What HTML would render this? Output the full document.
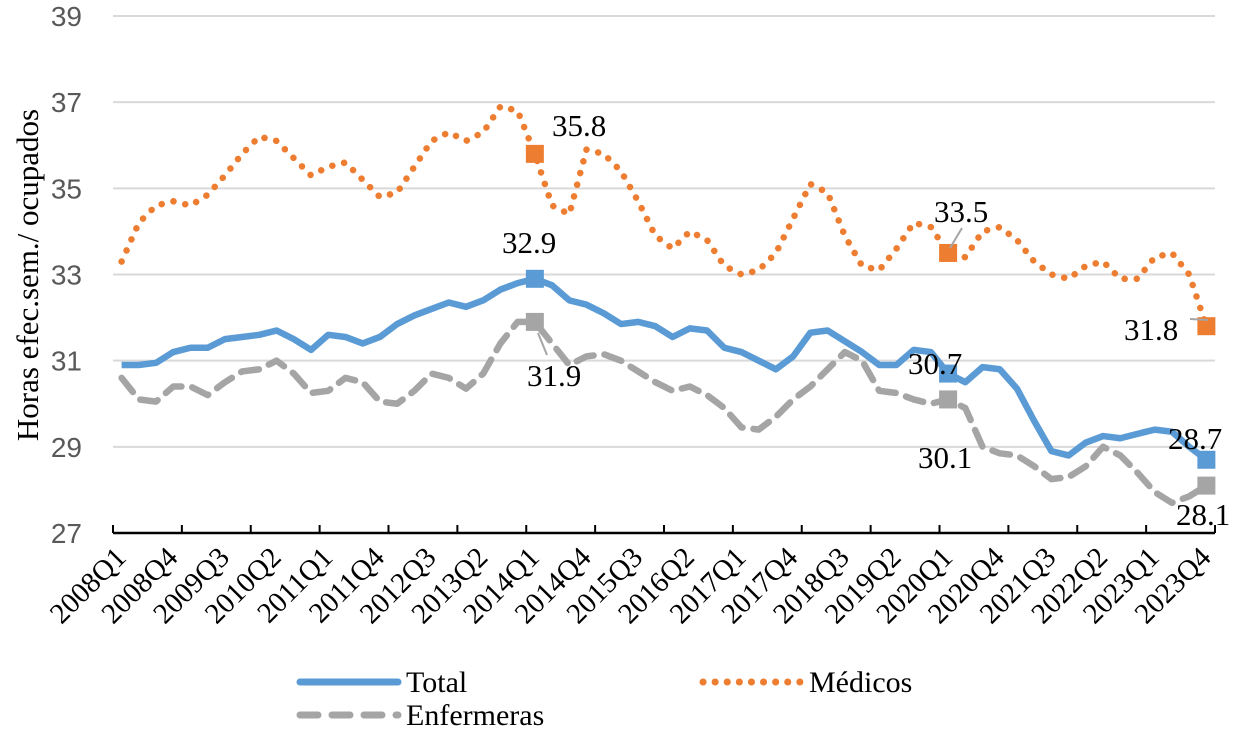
<!DOCTYPE html>
<html><head><meta charset="utf-8"><style>
body{margin:0;background:#fff}
svg{display:block}
text{font-family:"Liberation Serif",serif;fill:#000}
</style></head><body>
<svg id="c" width="1250" height="729"></svg>
<script>
const categories=[];for(let y=2008;y<=2023;y++)for(let q=1;q<=4;q++)categories.push(y+"Q"+q);
const totalValues=[30.9,30.9,30.95,31.2,31.3,31.3,31.5,31.55,31.6,31.7,31.5,31.25,31.6,31.55,31.4,31.55,31.85,32.05,32.2,32.35,32.25,32.4,32.65,32.8,32.9,32.75,32.4,32.3,32.1,31.85,31.9,31.8,31.55,31.75,31.7,31.3,31.2,31.0,30.8,31.1,31.65,31.7,31.45,31.2,30.9,30.9,31.25,31.2,30.7,30.5,30.85,30.8,30.35,29.6,28.9,28.8,29.1,29.25,29.2,29.3,29.4,29.35,29.0,28.7];
const medicosValues=[33.3,34.2,34.6,34.7,34.6,34.85,35.3,35.8,36.2,36.1,35.7,35.3,35.5,35.6,35.2,34.8,34.9,35.5,36.1,36.3,36.1,36.3,36.9,36.8,35.8,34.6,34.4,35.9,35.8,35.4,34.7,33.9,33.6,34.0,33.8,33.2,33.0,33.1,33.5,34.3,35.1,34.9,33.9,33.2,33.1,33.6,34.2,34.1,33.5,33.4,34.0,34.1,33.8,33.3,33.0,32.9,33.2,33.3,32.9,32.9,33.4,33.5,33.0,31.8];
const enfermerasValues=[30.6,30.1,30.05,30.4,30.4,30.2,30.5,30.75,30.8,31.0,30.7,30.25,30.3,30.6,30.5,30.05,30.0,30.3,30.7,30.6,30.35,30.7,31.4,31.9,31.9,31.4,30.9,31.1,31.15,31.0,30.75,30.5,30.3,30.4,30.2,29.9,29.45,29.4,29.7,30.1,30.4,30.8,31.2,31.0,30.3,30.25,30.1,30.0,30.1,29.9,29.0,28.85,28.8,28.55,28.25,28.3,28.55,29.0,28.8,28.4,27.95,27.7,27.85,28.1];
const yTicks=[27,29,31,33,35,37,39];
const markIdx=[24,48,63];
const NS="http://www.w3.org/2000/svg",svg=document.getElementById('c');
const X0=113,X1=1215,Y0=533,Y1=16,cw=(X1-X0)/categories.length;
const x=i=>X0+(i+0.5)*cw;
const y=v=>Y0-(v-27)/(39-27)*(Y0-Y1);
function el(t,a,p){const e=document.createElementNS(NS,t);for(const k in a)e.setAttribute(k,a[k]);(p||svg).appendChild(e);return e;}
yTicks.forEach(v=>{
 if(v>27){const g=el('line',{x1:X0,x2:X1,y1:y(v),y2:y(v),stroke:'#d9d9d9','stroke-width':2});
 
 }
 const t=el('text',{x:82,y:y(v)+10,'text-anchor':'end','font-size':28,style:'font-family:"Liberation Sans",sans-serif;fill:#595959'});t.textContent=v;
 
 
});
const ax=el('line',{x1:X0,x2:X1,y1:Y0,y2:Y0,stroke:'#000','stroke-width':2.5});


for(let i=0;i<=categories.length;i+=4){const t=el('line',{x1:X0+i*cw,x2:X0+i*cw,y1:Y0-8,y2:Y0,stroke:'#000','stroke-width':2});
 
 }
for(let i=0;i<categories.length;i+=3){const tx=x(i)+6,ty=Y0+26;
 const t=el('text',{x:tx,y:ty,'text-anchor':'end','font-size':29,transform:`rotate(-45 ${tx} ${ty})`});t.textContent=categories[i];
 
 }
const yt=el('text',{x:0,y:0,'text-anchor':'middle','font-size':31,transform:'translate(38,275) rotate(-90)'});yt.textContent='Horas efec.sem./ ocupados';


function series(vals,name,style){
 const p=el('polyline',Object.assign({points:vals.map((v,i)=>x(i)+','+y(v)).join(' '),fill:'none','stroke-linejoin':'round'},style));
 
 
}
series(enfermerasValues,'enfermeras',{stroke:'#a5a5a5','stroke-width':6.5,'stroke-dasharray':'18 11','stroke-linecap':'round'});
series(medicosValues,'medicos',{stroke:'#ed7d31','stroke-width':6.5,'stroke-dasharray':'0.1 12','stroke-linecap':'round'});
series(totalValues,'total',{stroke:'#5b9bd5','stroke-width':6.5});
[[medicosValues,'#ed7d31','medicos'],[totalValues,'#5b9bd5','total'],[enfermerasValues,'#a5a5a5','enfermeras']].forEach(([vals,c,n])=>{
 markIdx.forEach(i=>{const m=el('rect',{x:x(i)-9,y:y(vals[i])-9,width:18,height:18,fill:c});
 
 });
});
const labels=[[552,136,'35.8'],[502,253,'32.9'],[527,386,'31.9'],[934,222,'33.5'],[908,374,'30.7'],[918,468,'30.1'],[1124,340,'31.8'],[1168,449,'28.7'],[1176,525,'28.1']];
labels.forEach(([lx,ly,s])=>{const t=el('text',{x:lx,y:ly,'font-size':31});t.textContent=s;
 
 });
[[962,228,950,248],[1190,319,1208,320],[547,355,538,333]].forEach(a=>{const l=el('line',{x1:a[0],y1:a[1],x2:a[2],y2:a[3],stroke:'#a5a5a5','stroke-width':2});
 
 });
function legend(x1,yy,style,label,name){
 const g=el('g',{});
 
 
 el('line',Object.assign({x1:x1,x2:x1+98,y1:yy,y2:yy,fill:'none','stroke-linecap':'round'},style),g);
 const t=el('text',{x:x1+106,y:yy+10,'font-size':30},g);t.textContent=label;
}
legend(300,682,{stroke:'#5b9bd5','stroke-width':7},'Total','total');
legend(703,682,{stroke:'#ed7d31','stroke-width':7,'stroke-dasharray':'0.1 12'},'Médicos','medicos');
legend(300,715,{stroke:'#a5a5a5','stroke-width':7,'stroke-dasharray':'18 14'},'Enfermeras','enfermeras');
</script>
</body></html>
